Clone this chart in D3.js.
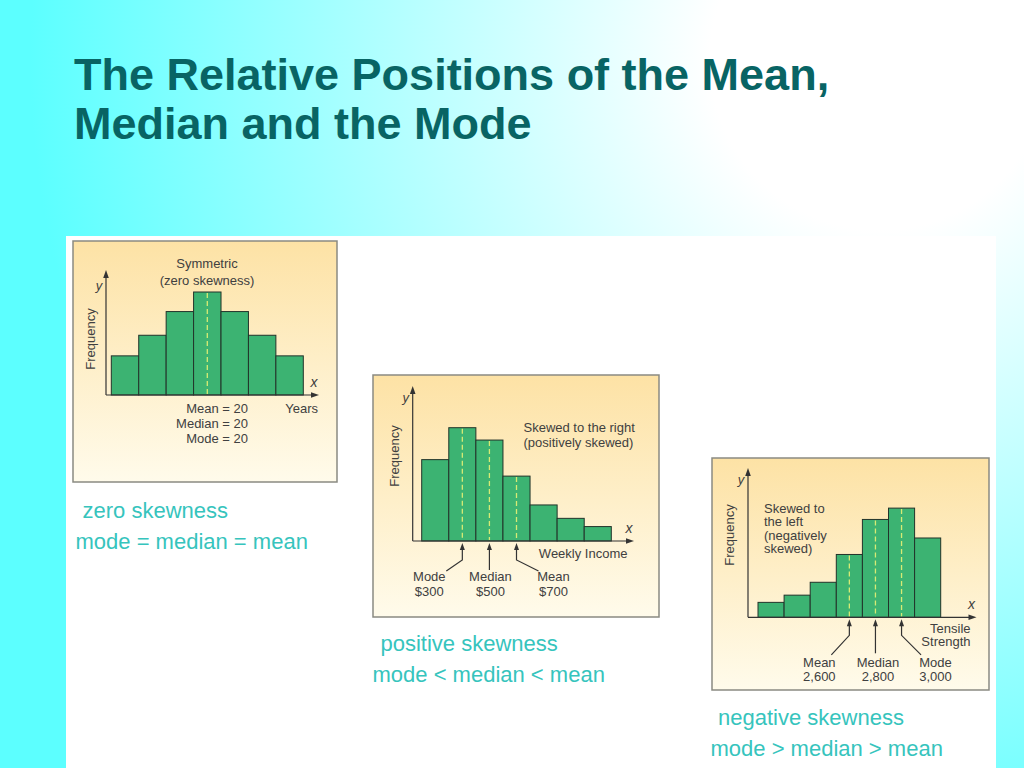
<!DOCTYPE html>
<html>
<head>
<meta charset="utf-8">
<script src="https://cdn.jsdelivr.net/npm/d3@7"></script>
<style>
  body { margin: 0; overflow: hidden; }
  svg { display: block; }
</style>
</head>
<body>
<div id="main_div"></div>
<script>
var WIDTH = 1024;
var HEIGHT = 768;

// frequencies (same unit in each)
var sym_freq = [3.8, 5.8, 8.1, 10, 8.1, 5.8, 3.8];
var right_freq = [7.9, 11, 9.8, 6.3, 3.5, 2.2, 1.4];
var left_freq = [1.45, 2.15, 3.4, 6.1, 9.5, 10.6, 7.7];

var title_lines = ["The Relative Positions of the Mean,", "Median and the Mode"];

var sym_title = ["Symmetric", "(zero skewness)"];
var sym_stats = ["Mean = 20", "Median = 20", "Mode = 20"];
var sym_bin = 3;
var sym_unit = ["Years"];

var right_note = ["Skewed to the right", "(positively skewed)"];
var right_marks = ["Mode", "Median", "Mean"];
var right_vals = ["$300", "$500", "$700"];
var right_bins = [1, 2, 3];
var right_unit = ["Weekly Income"];

var left_note = ["Skewed to", "the left", "(negatively", "skewed)"];
var left_marks = ["Mean", "Median", "Mode"];
var left_vals = ["2,600", "2,800", "3,000"];
var left_bins = [3, 4, 5];
var left_unit = ["Tensile", "Strength"];

var captions_zero = ["zero skewness", "mode = median = mean"];
var captions_pos = ["positive skewness", "mode < median < mean"];
var captions_neg = ["negative skewness", "mode > median > mean"];

var FONT = "'Liberation Sans', Arial, Helvetica, sans-serif";
var BAR_FILL = "#3cb372";
var TEXT_COL = "#404040";
var CAPTION_COL = "#36c4bd";

var svg = d3.select("#main_div").append("svg")
    .attr("width", WIDTH)
    .attr("height", HEIGHT)
    .style("font-family", FONT);

var defs = svg.append("defs");

// slide background: white glow top right, cyan elsewhere
var bg = defs.append("radialGradient")
    .attr("id", "bg_grad")
    .attr("gradientUnits", "userSpaceOnUse")
    .attr("cx", 880).attr("cy", 60).attr("r", 850);
bg.append("stop").attr("offset", "0%").attr("stop-color", "#ffffff");
bg.append("stop").attr("offset", "20%").attr("stop-color", "#ffffff");
bg.append("stop").attr("offset", "100%").attr("stop-color", "#5cffff");

// panel paper colour
var pg = defs.append("linearGradient")
    .attr("id", "panel_grad")
    .attr("x1", 0).attr("y1", 0).attr("x2", 0).attr("y2", 1);
pg.append("stop").attr("offset", "0%").attr("stop-color", "#fde2a5");
pg.append("stop").attr("offset", "100%").attr("stop-color", "#fffbeb");

svg.append("rect")
    .attr("width", WIDTH).attr("height", HEIGHT)
    .attr("fill", "url(#bg_grad)");

// white card behind the pictures
svg.append("rect")
    .attr("x", 66).attr("y", 236)
    .attr("width", 930).attr("height", 532)
    .attr("fill", "#ffffff");

// Title
svg.append("g").selectAll("text")
    .data(title_lines).enter()
  .append("text")
    .attr("x", 74)
    .attr("y", function(d, i) { return 90 + i * 49; })
    .attr("font-size", 45)
    .attr("font-weight", "bold")
    .attr("fill", "#086464")
    .text(function(d) { return d; });


function drawPanel(cfg, freq) {
  var g = svg.append("g");

  // frame
  g.append("rect")
      .attr("x", cfg.frame[0]).attr("y", cfg.frame[1])
      .attr("width", cfg.frame[2] - cfg.frame[0])
      .attr("height", cfg.frame[3] - cfg.frame[1])
      .attr("fill", "url(#panel_grad)")
      .attr("stroke", "#8a8a82")
      .attr("stroke-width", 1.5);

  var x = d3.scaleBand()
      .domain(d3.range(freq.length))
      .range(cfg.bars)
      .paddingInner(0);

  var y = d3.scaleLinear()
      .domain([0, 10])
      .range([cfg.oy, cfg.oy - 103]);

  // bars
  g.selectAll(".bar")
      .data(freq).enter()
    .append("rect")
      .attr("class", "bar")
      .attr("x", function(d, i) { return x(i); })
      .attr("y", function(d) { return y(d); })
      .attr("width", x.bandwidth())
      .attr("height", function(d) { return y(0) - y(d); })
      .attr("fill", BAR_FILL)
      .attr("stroke", "#22332a")
      .attr("stroke-width", 1);

  // axes with arrow heads
  g.append("line")
      .attr("x1", cfg.ox).attr("y1", y(0))
      .attr("x2", cfg.ox).attr("y2", cfg.yTop + 4)
      .attr("stroke", "#333").attr("stroke-width", 1.2);
  g.append("path")
      .attr("d", "M" + cfg.ox + "," + cfg.yTop + "l-2.8,8l5.6,0z")
      .attr("fill", "#333");
  g.append("line")
      .attr("x1", cfg.ox).attr("y1", y(0))
      .attr("x2", cfg.xEnd - 4).attr("y2", y(0))
      .attr("stroke", "#333").attr("stroke-width", 1.2);
  g.append("path")
      .attr("d", "M" + cfg.xEnd + "," + y(0) + "l-8,-2.8l0,5.6z")
      .attr("fill", "#333");

  // axis letters
  g.append("text")
      .attr("x", cfg.ox - 7).attr("y", cfg.yLab)
      .attr("font-size", 13).attr("font-style", "italic")
      .attr("text-anchor", "middle")
      .attr("fill", TEXT_COL)
      .text("y");
  g.append("text")
      .attr("x", cfg.xEnd - 5).attr("y", y(0) - 8)
      .attr("font-size", 14).attr("font-style", "italic")
      .attr("text-anchor", "middle")
      .attr("fill", TEXT_COL)
      .text("x");

  g.append("text")
      .attr("transform", "translate(" + cfg.freqLab[0] + "," + cfg.freqLab[1] + ") rotate(-90)")
      .attr("font-size", 13)
      .attr("text-anchor", "middle")
      .attr("fill", TEXT_COL)
      .text("Frequency");

  // dashed centre lines
  g.selectAll(".dash")
      .data(cfg.bins).enter()
    .append("line")
      .attr("class", "dash")
      .attr("x1", function(b) { return x(b) + x.bandwidth() / 2; })
      .attr("x2", function(b) { return x(b) + x.bandwidth() / 2; })
      .attr("y1", function(b) { return y(freq[b]) + 1; })
      .attr("y2", y(0) - 1)
      .attr("stroke", "#d6ea74")
      .attr("stroke-width", 1.3)
      .attr("stroke-dasharray", "5,3");

  return { g: g, x: x, y: y };
}

function drawLines(g, lines, px, py, step, anchor) {
  g.append("g").selectAll("text")
      .data(lines).enter()
    .append("text")
      .attr("x", px)
      .attr("y", function(d, i) { return py + i * step; })
      .attr("font-size", 13)
      .attr("text-anchor", anchor)
      .attr("fill", TEXT_COL)
      .text(function(d) { return d; });
}

function drawPointers(p, cfg, marks, vals) {
  var x = p.x, base = p.y(0);
  cfg.bins.forEach(function(b, i) {
    var cx = x(b) + x.bandwidth() / 2;
    var ex = cx + cfg.pointEnd[i];
    var path = "M" + cx + "," + (base + 6) + "L" + cx + "," + (base + (i == 1 ? cfg.midEnd : cfg.kink));
    if (i != 1) path += "L" + ex + "," + (base + cfg.end);
    p.g.append("path")
        .attr("d", path)
        .attr("fill", "none")
        .attr("stroke", "#333")
        .attr("stroke-width", 1.2);
    p.g.append("path")
        .attr("d", "M" + cx + "," + (base + 2) + "l-2.5,7l5,0z")
        .attr("fill", "#333");
    drawLines(p.g, [marks[i], vals[i]], cx + cfg.labelOff[i], base + cfg.labelY, cfg.labelStep, "middle");
  });
}

// ---- Symmetric ----
var sym_cfg = {
  frame: [73, 241, 337, 482], ox: 106, oy: 395, bars: [111.3, 303.3],
  yTop: 270, xEnd: 319, yLab: 290, freqLab: [94.5, 339], bins: [sym_bin]
};
var p1 = drawPanel(sym_cfg, sym_freq);
drawLines(p1.g, sym_title, 207, 268, 16.5, "middle");
drawLines(p1.g, sym_stats, 248, 413, 15, "end");
drawLines(p1.g, sym_unit, 318, 413, 15, "end");

// ---- Skewed right ----
var right_cfg = {
  frame: [373, 375, 659, 617], ox: 412.7, oy: 541, bars: [421.7, 611.3],
  yTop: 386, xEnd: 634, yLab: 402, freqLab: [398.5, 456], bins: right_bins,
  kink: 19, midEnd: 29, end: 30, pointEnd: [-16, 0, 22], labelOff: [-33, 1, 37],
  labelY: 39.5, labelStep: 15.5
};
var p2 = drawPanel(right_cfg, right_freq);
drawLines(p2.g, right_note, 523.5, 431.5, 15.5, "start");
drawLines(p2.g, right_unit, 627.5, 557.5, 15, "end");
drawPointers(p2, right_cfg, right_marks, right_vals);

// ---- Skewed left ----
var left_cfg = {
  frame: [712, 458, 989, 690], ox: 748, oy: 617.3, bars: [758, 940.7],
  yTop: 468, xEnd: 976.5, yLab: 484, freqLab: [733.5, 535], bins: left_bins,
  kink: 18, midEnd: 36, end: 37.5, pointEnd: [-18, 0, 19.5], labelOff: [-30, 2.5, 34],
  labelY: 50, labelStep: 13.5
};
var p3 = drawPanel(left_cfg, left_freq);
drawLines(p3.g, left_note, 764, 512.5, 13.5, "start");
drawLines(p3.g, left_unit, 970.5, 632.5, 13.5, "end");
drawPointers(p3, left_cfg, left_marks, left_vals);

// ---- captions ----
function drawCaption(lines, xs, y0) {
  svg.append("g").selectAll("text")
      .data(lines).enter()
    .append("text")
      .attr("x", function(d, i) { return xs[i]; })
      .attr("y", function(d, i) { return y0 + i * 31; })
      .attr("font-size", 22)
      .attr("fill", CAPTION_COL)
      .text(function(d) { return d; });
}
drawCaption(captions_zero, [82.5, 75.5], 518);
drawCaption(captions_pos, [380.5, 372.5], 650.5);
drawCaption(captions_neg, [718, 710.5], 724.5);
</script>
</body>
</html>
